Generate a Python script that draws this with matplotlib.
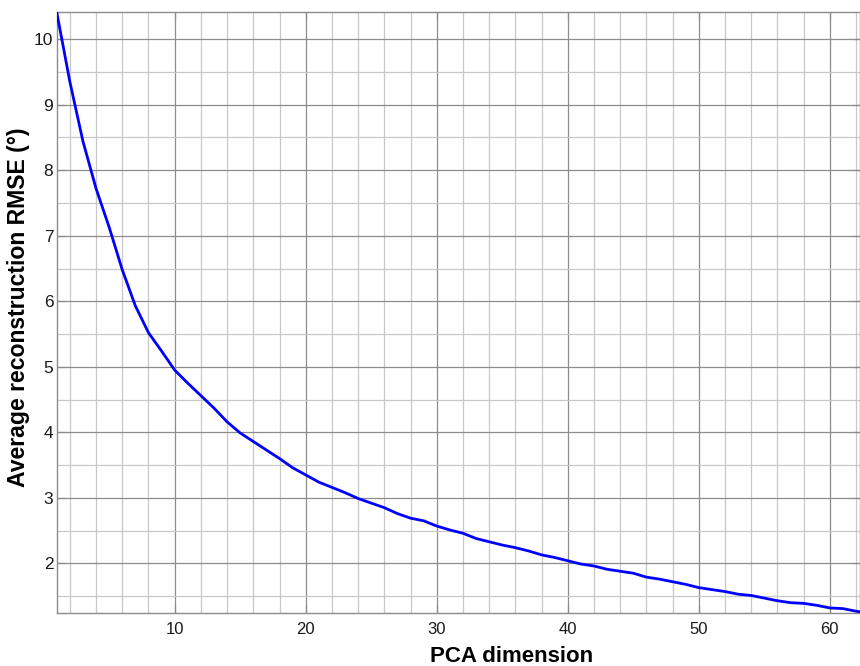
import matplotlib
matplotlib.use("Agg")
import matplotlib.pyplot as plt
from matplotlib.ticker import MultipleLocator

pca_dim = list(range(1, 64))
rmse = [10.41, 9.35, 8.44, 7.72, 7.13, 6.48, 5.93, 5.52, 5.24, 4.95,
        4.75, 4.56, 4.37, 4.16, 3.99, 3.86, 3.73, 3.60, 3.46, 3.35,
        3.24, 3.16, 3.08, 2.99, 2.92, 2.85, 2.76, 2.69, 2.65, 2.57,
        2.51, 2.46, 2.38, 2.33, 2.28, 2.24, 2.19, 2.13, 2.09, 2.04,
        1.99, 1.96, 1.91, 1.88, 1.85, 1.79, 1.76, 1.72, 1.68, 1.63,
        1.60, 1.57, 1.53, 1.51, 1.47, 1.43, 1.40, 1.39, 1.36, 1.32,
        1.31, 1.27, 1.24]
x_label = "PCA dimension"
y_label = "Average reconstruction RMSE (°)"

plt.rcParams['font.family'] = ['Liberation Sans', 'DejaVu Sans']

fig = plt.figure(figsize=(8.6, 6.66), dpi=100)
ax = fig.add_axes([0.066, 0.079, 0.934, 0.9025])

ax.plot(pca_dim, rmse, color='#0000ff', linewidth=2.0, zorder=3)

ax.set_xlim(1, 62.3)
ax.set_ylim(1.237, 10.41)

ax.xaxis.set_major_locator(MultipleLocator(10))
ax.xaxis.set_minor_locator(MultipleLocator(2))
ax.yaxis.set_major_locator(MultipleLocator(1))
ax.yaxis.set_minor_locator(MultipleLocator(0.5))

ax.grid(which='major', color='#8c8c8c', linewidth=0.9)
ax.grid(which='minor', color='#c8c8c8', linewidth=0.9)
ax.set_axisbelow(True)

for s in ax.spines.values():
    s.set_color('#8c8c8c')
    s.set_linewidth(1.0)

ax.tick_params(which='major', direction='in', length=6, width=0.9,
               color='#8c8c8c', top=True, right=True,
               labelcolor='#1a1a1a')
ax.tick_params(which='minor', length=0)
ax.tick_params(axis='x', pad=6, labelsize=12)
ax.tick_params(axis='y', pad=2.5, labelsize=12.5)

ax.set_xlabel(x_label, fontsize=16, fontweight='bold', labelpad=7)
ax.set_ylabel(y_label, fontsize=16.6, fontweight='bold', labelpad=3)
ax.xaxis.label.set_x(0.5656)
ax.yaxis.label.set_y(0.509)

fig.savefig('out.png', dpi=100)
